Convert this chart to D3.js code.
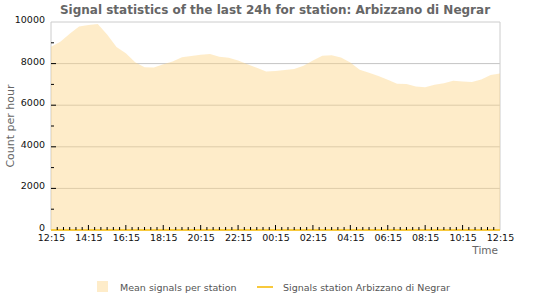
<!DOCTYPE html>
<html>
<head>
<meta charset="utf-8">
<script src="https://cdn.jsdelivr.net/npm/d3@7"></script>
<style>
  body { margin: 0; background: #fff; }
  text { font-family: "DejaVu Sans", sans-serif; }
</style>
</head>
<body>
<div id="chart"></div>
<script>
// Chart data: values every 30 minutes from 12:15 to 12:15 the next day
var hourLabels = ["12:15", "14:15", "16:15", "18:15", "20:15", "22:15", "00:15",
                  "02:15", "04:15", "06:15", "08:15", "10:15", "12:15"];
var meanSignals = [8810, 9050, 9440, 9780, 9860, 9900, 9400, 8800, 8500, 8060,
                   7830, 7810, 7970, 8100, 8300, 8370, 8420, 8460, 8330, 8280,
                   8150, 7970, 7800, 7620, 7650, 7690, 7740, 7900, 8150, 8380,
                   8400, 8290, 8050, 7700, 7560, 7400, 7220, 7030, 7020, 6900,
                   6860, 6980, 7060, 7180, 7140, 7110, 7240, 7450, 7520];
var stationSignals = [0, 0, 0, 0, 0, 0, 0, 0, 0, 0, 0, 0, 0, 0, 0, 0, 0, 0, 0, 0,
                      0, 0, 0, 0, 0, 0, 0, 0, 0, 0, 0, 0, 0, 0, 0, 0, 0, 0, 0, 0,
                      0, 0, 0, 0, 0, 0, 0, 0, 0];
var yTicks = [0, 2000, 4000, 6000, 8000, 10000];

var svgWidth = 550;
var svgHeight = 300;
var margin = { top: 22, right: 50, bottom: 70, left: 51 };
var chartWidth = svgWidth - margin.left - margin.right;
var chartHeight = svgHeight - margin.top - margin.bottom;

var svg = d3.select("#chart")
  .append("svg")
  .attr("width", svgWidth)
  .attr("height", svgHeight);

var chartGroup = svg.append("g")
  .attr("transform", `translate(${margin.left}, ${margin.top})`);

// time in hours since 12:15
var xScale = d3.scaleLinear().domain([0, 24]).range([0, chartWidth]);
var yScale = d3.scaleLinear().domain([0, 10000]).range([chartHeight, 0]);
var hours = meanSignals.map((d, i) => i / 2);

// grid lines
chartGroup.selectAll(".grid")
  .data(yTicks.filter(d => d > 0 && d < 10000))
  .enter().append("line")
  .attr("x1", 0).attr("x2", chartWidth)
  .attr("y1", d => yScale(d)).attr("y2", d => yScale(d))
  .attr("stroke", "#c4c4c4");

// frame
chartGroup.append("path")
  .attr("d", `M0,${chartHeight}V0H${chartWidth}V${chartHeight}H0`)
  .attr("fill", "none")
  .attr("stroke", "#cccccc");

// area of mean signals
var area = d3.area()
  .x((d, i) => xScale(hours[i]))
  .y0(yScale(0))
  .y1(d => yScale(d));
chartGroup.append("path")
  .datum(meanSignals)
  .attr("d", area)
  .attr("fill", "rgba(252, 212, 135, 0.45)");

// line of the station
var line = d3.line()
  .x((d, i) => xScale(hours[i]))
  .y(d => yScale(d));
chartGroup.append("path")
  .datum(stationSignals)
  .attr("d", line)
  .attr("fill", "none")
  .attr("stroke", "#f8c93c")
  .attr("stroke-width", 2);

// y axis: ticks inside the plot
var leftAxis = d3.axisLeft(yScale).tickValues(yTicks)
  .tickFormat(d3.format("d")).tickSize(0).tickPadding(6);
var yAxisG = chartGroup.append("g").call(leftAxis);
yAxisG.select(".domain").remove();
yAxisG.selectAll("text")
  .attr("font-family", "DejaVu Sans, sans-serif")
  .attr("font-size", 9.5)
  .attr("fill", "#111")
  .attr("dy", "0.05em");
chartGroup.selectAll(".ytick")
  .data(d3.range(1000, 10000, 1000))
  .enter().append("line")
  .attr("x1", 0).attr("x2", d => d % 2000 === 0 ? 5 : 3)
  .attr("y1", d => yScale(d)).attr("y2", d => yScale(d))
  .attr("stroke", "#000");

// x axis: labels every 2h, ticks every 20 min pointing up
var bottomAxis = d3.axisBottom(xScale)
  .tickValues(d3.range(0, 25, 2))
  .tickFormat((d, i) => hourLabels[i])
  .tickSize(0).tickPadding(4);
var xAxisG = chartGroup.append("g")
  .attr("transform", `translate(0, ${chartHeight})`)
  .call(bottomAxis);
xAxisG.select(".domain").remove();
xAxisG.selectAll("text")
  .attr("font-family", "DejaVu Sans, sans-serif")
  .attr("font-size", 9.5)
  .attr("fill", "#111");
chartGroup.selectAll(".xtick")
  .data(d3.range(1, 72))
  .enter().append("line")
  .attr("x1", d => xScale(d / 3)).attr("x2", d => xScale(d / 3))
  .attr("y1", chartHeight)
  .attr("y2", d => chartHeight - (d % 6 === 0 ? 5 : 3))
  .attr("stroke", "#000");

// titles
svg.append("text")
  .attr("x", svgWidth / 2).attr("y", 14)
  .attr("text-anchor", "middle")
  .attr("font-size", 12).attr("font-weight", "bold")
  .attr("fill", "#666")
  .text("Signal statistics of the last 24h for station: Arbizzano di Negrar");

svg.append("text")
  .attr("transform", `translate(10, ${margin.top + chartHeight / 2}) rotate(-90)`)
  .attr("text-anchor", "middle")
  .attr("dy", "0.35em")
  .attr("font-size", 11)
  .attr("fill", "#666")
  .text("Count per hour");

svg.append("text")
  .attr("x", 498).attr("y", 254)
  .attr("text-anchor", "end")
  .attr("font-size", 10.5)
  .attr("fill", "#666")
  .text("Time");

// legend
var legend = svg.append("g").attr("transform", "translate(0, 287)");
legend.append("rect")
  .attr("x", 97).attr("y", -6).attr("width", 11).attr("height", 11)
  .attr("fill", "rgba(252, 212, 135, 0.45)");
legend.append("text")
  .attr("x", 120).attr("y", 4)
  .attr("font-size", 9.5).attr("fill", "#555")
  .text("Mean signals per station");
legend.append("line")
  .attr("x1", 257).attr("x2", 273).attr("y1", 0).attr("y2", 0)
  .attr("stroke", "#f8c93c").attr("stroke-width", 2);
legend.append("text")
  .attr("x", 283).attr("y", 4)
  .attr("font-size", 9.5).attr("fill", "#555")
  .text("Signals station Arbizzano di Negrar");
</script>
</body>
</html>
